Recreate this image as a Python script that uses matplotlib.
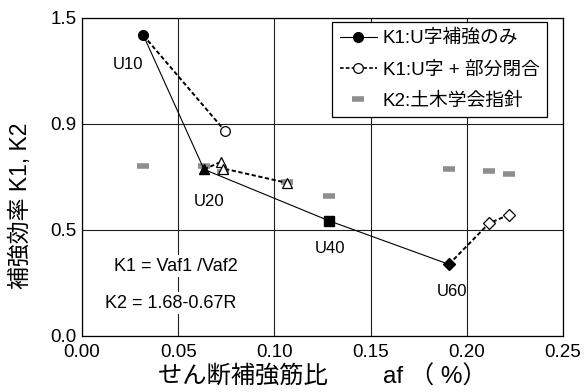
import matplotlib
matplotlib.use("Agg")
import matplotlib.pyplot as plt
from matplotlib.lines import Line2D

plt.rcParams['font.family'] = ['Liberation Sans', 'Noto Sans CJK JP', 'DejaVu Sans']

# K1: U字補強のみ (U10, U20, U40, U60)
u_af = [0.0319, 0.0634, 0.1285, 0.1907]
u_k1 = [1.418, 0.786, 0.543, 0.338]
u_names = ['U10', 'U20', 'U40', 'U60']
u_markers = ['o', '^', 's', 'D']

# K1: U字 + 部分閉合 (各シリーズの先頭はU字補強のみの点)
c_af = [[0.0319, 0.0743],
        [0.0634, 0.0721, 0.0734, 0.1067],
        [0.1907, 0.2115, 0.2221]]
c_k1 = [[1.418, 0.967],
        [0.786, 0.821, 0.790, 0.722],
        [0.338, 0.531, 0.573]]
c_markers = ['o', '^', 'D']

# K2: 土木学会指針
k2_af = [0.0319, 0.0634, 0.0734, 0.1067, 0.1285, 0.1907, 0.2115, 0.2221]
k2 = [0.802, 0.800, 0.774, 0.725, 0.661, 0.787, 0.779, 0.765]

xticks = [0.0, 0.05, 0.10, 0.15, 0.20, 0.25]
yticks = [0.0, 0.5, 1.0, 1.5]
ytick_labels = ['0.0', '0.5', '0.9', '1.5']

fig = plt.figure(figsize=(5.85, 3.92), dpi=100)
ax = fig.add_axes([0.1402, 0.1429, 0.8222, 0.8112])

ax.set_xlim(0, 0.25)
ax.set_ylim(0, 1.5)
ax.set_xticks(xticks)
ax.set_xticklabels(['%.2f' % v for v in xticks])
ax.set_yticks(yticks)
ax.set_yticklabels(ytick_labels)
ax.tick_params(length=0, labelsize=13.5)
ax.tick_params(axis='x', pad=6)
ax.tick_params(axis='y', pad=4)
ax.grid(True, color='#202020', lw=0.8)
ax.set_axisbelow(True)
for s in ax.spines.values():
    s.set_linewidth(0.9)

gray = '#8e8e8e'
ax.plot(k2_af, k2, ls='none', marker='_', ms=9, mew=4, color=gray, zorder=2)

dash = (0, (2.2, 1.3))
for xs, ys, m in zip(c_af, c_k1, c_markers):
    ax.plot(xs, ys, color='black', lw=1.4, ls=dash, zorder=3)
    ms = 6 if m == 'D' else 7
    ax.plot(xs[1:], ys[1:], ls='none', marker=m, ms=ms, mfc='white',
            mec='black', mew=0.9, zorder=4)

ax.plot(u_af, u_k1, color='black', lw=0.8, zorder=3)
for x, y, m in zip(u_af, u_k1, u_markers):
    ms = 6 if m == 'D' else 7
    ax.plot(x, y, marker=m, ms=ms, color='black', zorder=5)

label_pos = [(0.0241, 1.28), (0.0658, 0.635), (0.1291, 0.415), (0.1921, 0.21)]
for name, (x, y) in zip(u_names, label_pos):
    ax.text(x, y, name, fontsize=12, ha='center', va='center')

box = dict(facecolor='white', edgecolor='none', pad=1.5)
ax.text(0.0486, 0.33, 'K1 = Vaf1 /Vaf2', fontsize=13, ha='center', va='center', bbox=box)
ax.text(0.0463, 0.155, 'K2 = 1.68-0.67R', fontsize=13, ha='center', va='center', bbox=box)

handles = [
    Line2D([], [], color='black', lw=0.8, marker='o', ms=7),
    Line2D([], [], color='black', lw=1.2, ls=dash, marker='o', ms=7, mfc='white', mew=0.9),
    Line2D([], [], ls='none', marker='_', ms=9, mew=4, color=gray),
]
labels = ['K1:U字補強のみ', 'K1:U字 + 部分閉合', 'K2:土木学会指針']
leg = ax.legend(handles, labels, loc='upper right', bbox_to_anchor=(0.967, 0.9865),
                fontsize=13.5, frameon=True, fancybox=False, framealpha=1,
                edgecolor='black', handlelength=2.0, handletextpad=0.3,
                labelspacing=0.75, borderpad=0.4, borderaxespad=0)
leg.get_frame().set_linewidth(0.9)

ax.set_xlabel('せん断補強筋比　　 af （ %）', fontsize=17.5, labelpad=3)
ax.set_ylabel('補強効率 K1, K2', fontsize=16.5)
ax.yaxis.set_label_coords(-0.105, 0.41)

fig.savefig('out.png', dpi=100)
